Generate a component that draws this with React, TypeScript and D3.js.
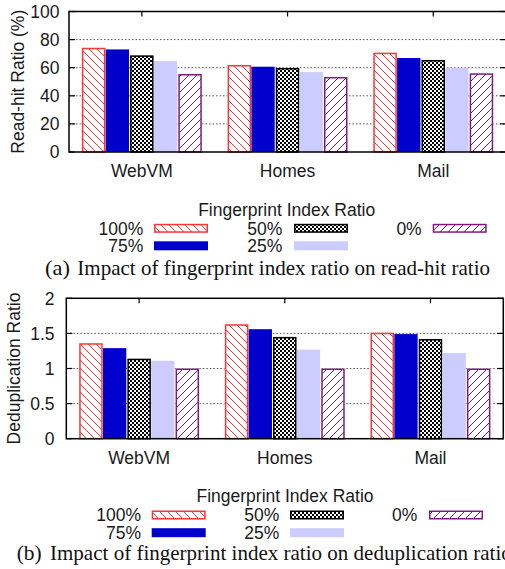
import React from "react";
import * as d3 from "d3";

const categories = ["WebVM", "Homes", "Mail"];
const seriesNames = ["100%", "75%", "50%", "25%", "0%"];

// Read-hit ratio (%) per series, in category order
const readHit100 = [74.2, 61.9, 70.7];
const readHit75 = [73.0, 60.7, 66.9];
const readHit50 = [68.8, 59.8, 65.5];
const readHit25 = [64.7, 56.9, 60.0];
const readHit0 = [55.5, 53.4, 56.0];

// Deduplication ratio per series
const dedup100 = [1.36, 1.63, 1.51];
const dedup75 = [1.29, 1.56, 1.49];
const dedup50 = [1.14, 1.45, 1.42];
const dedup25 = [1.11, 1.27, 1.22];
const dedup0 = [1.0, 1.0, 1.0];

const readHitTicks = [0, 20, 40, 60, 80, 100];
const dedupTicks = [0, 0.5, 1, 1.5, 2];
const dedupTickLabels = ["0", "0.5", "1", "1.5", "2"];

const legendTitle = "Fingerprint Index Ratio";
const captionA = ["(a)", "Impact of fingerprint index ratio on read-hit ratio"];
const captionB = ["(b)", "Impact of fingerprint index ratio on deduplication ratio"];

const SANS = "'Liberation Sans', Arial, Helvetica, sans-serif";
const SERIF = "'Liberation Serif', 'Times New Roman', serif";
const FS = 17.5;

const RED = "#ff3535";
const BLUE = "#0000cc";
const LAV = "#ccccff";
const PURPLE = "#801a80";

const styles: Record<string, { fill: string; stroke: string; sw: number }> = {
  "100%": { fill: "url(#hatchRed)", stroke: RED, sw: 1.5 },
  "75%": { fill: BLUE, stroke: BLUE, sw: 0 },
  "50%": { fill: "url(#checker)", stroke: "#000", sw: 1.5 },
  "25%": { fill: LAV, stroke: LAV, sw: 0 },
  "0%": { fill: "url(#hatchPurple)", stroke: PURPLE, sw: 1.5 },
};

function Swatch({ x, y, w, h, name }: any) {
  const s = styles[name];
  const inset = s.sw / 2;
  return (
    <g>
      {s.sw > 0 && <rect x={x} y={y} width={w} height={h} fill="#fff" />}
      <rect
        x={x + inset}
        y={y + inset}
        width={w - 2 * inset}
        height={h - 2 * inset}
        fill={s.fill}
        stroke={s.sw > 0 ? s.stroke : "none"}
        strokeWidth={s.sw}
      />
    </g>
  );
}

function Chart({ cfg, series, ticks, tickLabels }: any) {
  const x = d3
    .scaleLinear()
    .domain([-0.5, categories.length - 0.5])
    .range([cfg.left, cfg.right]);
  const y = d3.scaleLinear().domain([0, ticks[ticks.length - 1]]).range([cfg.bottom, cfg.top]);
  const inner = d3.scaleBand().domain(seriesNames).range([-0.4135, 0.4135]).padding(0);
  const unit = x(1) - x(0);
  const bw = inner.bandwidth() * unit;
  return (
    <g>
      {ticks.slice(1, -1).map((t: number) => (
        <line
          key={"g" + t}
          x1={cfg.left}
          x2={cfg.right}
          y1={y(t)}
          y2={y(t)}
          stroke="#555"
          strokeWidth={1}
          strokeDasharray="1.5,2"
        />
      ))}
      {categories.map((c, i) => (
        <line key={"bt" + c} x1={x(i)} x2={x(i)} y1={cfg.bottom} y2={cfg.bottom - 5} stroke="#000" strokeWidth={1.2} />
      ))}
      {seriesNames.map((name, si) =>
        categories.map((c, ci) => {
          const v = series[si][ci];
          const x0 = x(ci) + (inner(name) as number) * unit;
          const y0 = y(v);
          const s = styles[name];
          const inset = s.sw / 2;
          return (
            <g key={name + c}>
              {s.sw > 0 && <rect x={x0} y={y0} width={bw} height={cfg.bottom - y0} fill="#fff" />}
              <rect
                x={x0 + inset + (s.sw > 0 ? 0.3 : 0)}
                y={y0 + inset}
                width={bw - 2 * inset - (s.sw > 0 ? 0.6 : 0.8)}
                height={cfg.bottom - y0 - inset}
                fill={s.fill}
                stroke={s.sw > 0 ? s.stroke : "none"}
                strokeWidth={s.sw}
              />
            </g>
          );
        })
      )}
      {ticks.map((t: number, i: number) => (
        <g key={"yt" + t}>
          <line x1={cfg.left} x2={cfg.left + 6} y1={y(t)} y2={y(t)} stroke="#000" strokeWidth={1.2} />
          <line x1={cfg.right} x2={cfg.right - 6} y1={y(t)} y2={y(t)} stroke="#000" strokeWidth={1.2} />
          <text
            x={cfg.tickLabelRight}
            y={y(t)}
            dy="0.36em"
            textAnchor="end"
            fontFamily={SANS}
            fontSize={FS}
            fill="#1a1a1a"
          >
            {tickLabels[i]}
          </text>
        </g>
      ))}
      {categories.map((c, i) => (
        <line key={"tt" + c} x1={x(i)} x2={x(i)} y1={cfg.top} y2={cfg.top + 5} stroke="#000" strokeWidth={1.2} />
      ))}
      {categories.map((c, i) => (
        <text
          key={"xl" + c}
          x={x(i)}
          y={cfg.xLabelY}
          dy="0.36em"
          textAnchor="middle"
          fontFamily={SANS}
          fontSize={FS}
          fill="#1a1a1a"
        >
          {c}
        </text>
      ))}
      <rect
        x={cfg.left}
        y={cfg.top}
        width={cfg.right - cfg.left}
        height={cfg.bottom - cfg.top}
        fill="none"
        stroke="#000"
        strokeWidth={1.5}
      />
      <text
        transform={`translate(${cfg.yLabelBaseline},${(cfg.top + cfg.bottom) / 2}) rotate(-90)`}
        textAnchor="middle"
        fontFamily={SANS}
        fontSize={FS}
        fill="#1a1a1a"
      >
        {cfg.yLabel}
      </text>
    </g>
  );
}

function Legend({ cfg }: any) {
  const items = [
    { name: "100%", col: 0, row: 0 },
    { name: "75%", col: 0, row: 1 },
    { name: "50%", col: 1, row: 0 },
    { name: "25%", col: 1, row: 1 },
    { name: "0%", col: 2, row: 0 },
  ];
  return (
    <g>
      <text
        x={cfg.titleX}
        y={cfg.titleY}
        dy="0.36em"
        textAnchor="middle"
        fontFamily={SANS}
        fontSize={FS}
        fill="#1a1a1a"
      >
        {legendTitle}
      </text>
      {items.map((it) => (
        <g key={it.name}>
          <text
            x={cfg.textRight[it.col]}
            y={cfg.rows[it.row]}
            dy="0.36em"
            textAnchor="end"
            fontFamily={SANS}
            fontSize={FS}
            fill="#1a1a1a"
          >
            {it.name}
          </text>
          <Swatch x={cfg.swatchX[it.col]} y={cfg.rows[it.row] - 4.5} w={54} h={9} name={it.name} />
        </g>
      ))}
    </g>
  );
}

function Caption({ cfg, parts }: any) {
  return (
    <g fontFamily={SERIF} fontSize={21} fill="#111">
      <text x={cfg.labelX} y={cfg.baseline} textLength={25} lengthAdjust="spacingAndGlyphs">{parts[0]}</text>
      <text x={cfg.textX} y={cfg.baseline} textLength={cfg.textLength} lengthAdjust="spacingAndGlyphs">
        {parts[1]}
      </text>
    </g>
  );
}

export default function App() {
  const topCfg = {
    left: 69,
    right: 69 + 3 * 145.7,
    top: 11.5,
    bottom: 152,
    tickLabelRight: 59.5,
    xLabelY: 170.5,
    yLabelBaseline: 24,
    yLabel: "Read-hit Ratio (%)",
  };
  const botCfg = {
    left: 66.3,
    right: 503.3,
    top: 298.3,
    bottom: 438.7,
    tickLabelRight: 54.5,
    xLabelY: 457.3,
    yLabelBaseline: 20,
    yLabel: "Deduplication Ratio",
  };
  const topLegend = {
    titleX: 286.7,
    titleY: 210,
    rows: [228.3, 245.8],
    textRight: [143.3, 282.3, 421.7],
    swatchX: [154, 294, 432.7],
  };
  const botLegend = {
    titleX: 285,
    titleY: 495.7,
    rows: [515, 532.7],
    textRight: [141, 279.3, 417.3],
    swatchX: [151.7, 290, 429],
  };
  const capA = { labelX: 45, textX: 77.3, baseline: 275, textLength: 412.7 };
  const capB = { labelX: 16.7, textX: 50, baseline: 560, textLength: 461.8 };

  return (
    <svg
      width={505}
      height={569}
      style={{ position: "fixed", left: 0, top: 0, background: "#fff" }}
    >
      <defs>
        <pattern id="hatchRed" patternUnits="userSpaceOnUse" width={8} height={8}>
          <rect width={8} height={8} fill="#fff" />
          <path d="M-2,-2 L10,10 M-2,6 L2,10 M6,-2 L10,2" stroke={RED} strokeWidth={1} />
        </pattern>
        <pattern id="hatchPurple" patternUnits="userSpaceOnUse" width={8} height={8}>
          <rect width={8} height={8} fill="#fff" />
          <path d="M-2,10 L10,-2 M-2,2 L2,-2 M6,10 L10,6" stroke={PURPLE} strokeWidth={1} />
        </pattern>
        <pattern id="checker" patternUnits="userSpaceOnUse" width={4} height={4}>
          <rect width={4} height={4} fill="#000" />
          <rect x={0} y={0} width={2} height={2} fill="#fff" />
          <rect x={2} y={2} width={2} height={2} fill="#fff" />
        </pattern>
      </defs>
      <rect width={505} height={569} fill="#fff" />
      <Chart
        cfg={topCfg}
        series={[readHit100, readHit75, readHit50, readHit25, readHit0]}
        ticks={readHitTicks}
        tickLabels={readHitTicks.map(String)}
      />
      <Legend cfg={topLegend} />
      <Caption cfg={capA} parts={captionA} />
      <Chart
        cfg={botCfg}
        series={[dedup100, dedup75, dedup50, dedup25, dedup0]}
        ticks={dedupTicks}
        tickLabels={dedupTickLabels}
      />
      <Legend cfg={botLegend} />
      <Caption cfg={capB} parts={captionB} />
    </svg>
  );
}
